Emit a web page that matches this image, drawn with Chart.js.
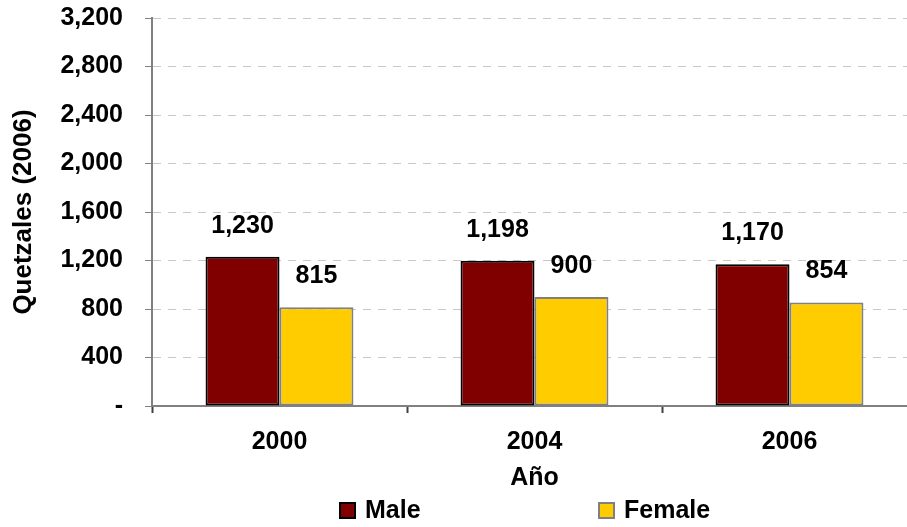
<!DOCTYPE html>
<html>
<head>
<meta charset="utf-8">
<script src="https://cdn.jsdelivr.net/npm/chart.js@4"></script>
<style>
  html, body { margin: 0; padding: 0; background: #fff; overflow: hidden; }
  #wrap { width: 917px; height: 527px; position: relative; }
</style>
</head>
<body>
<div id="wrap"><canvas id="ingresoChart"></canvas></div>
<script>
// ingreso medio por sexo, en quetzales de 2006
const years = ['2000', '2004', '2006'];
const maleValues = [1230, 1198, 1170];
const femaleValues = [815, 900, 854];
const seriesNames = ['Male', 'Female'];

const FONT = "'Liberation Sans', Arial, sans-serif";
const MALE_COLOR = '#800000';
const FEMALE_COLOR = '#FFCC00';

function fmt(v) {
    if (v === 0) return '-';
    return Number(v).toLocaleString('en-US');
}

// etiquetas de valor encima de cada barra
const valueLabels = {
    id: 'valueLabels',
    afterDatasetsDraw(chart) {
        const ctx = chart.ctx;
        ctx.save();
        ctx.font = 'bold 25px ' + FONT;
        ctx.fillStyle = '#000';
        ctx.textAlign = 'center';
        ctx.textBaseline = 'middle';
        chart.data.datasets.forEach((ds, i) => {
            chart.getDatasetMeta(i).data.forEach((bar, j) => {
                ctx.fillText(fmt(ds.data[j]), bar.x, bar.y - 31);
            });
        });
        ctx.restore();
    }
};

// leyenda abajo, dibujada a mano
const bottomLegend = {
    id: 'bottomLegend',
    afterDraw(chart) {
        const ctx = chart.ctx;
        const items = [
            { x: 340, fill: MALE_COLOR, stroke: '#000' },
            { x: 599, fill: FEMALE_COLOR, stroke: '#808080' }
        ];
        ctx.save();
        ctx.font = 'bold 25px ' + FONT;
        ctx.textBaseline = 'middle';
        ctx.textAlign = 'left';
        items.forEach((it, i) => {
            ctx.fillStyle = it.fill;
            ctx.fillRect(it.x, 503, 15, 15);
            ctx.lineWidth = 2;
            ctx.strokeStyle = it.stroke;
            ctx.strokeRect(it.x, 503, 15, 15);
            ctx.fillStyle = '#000';
            ctx.fillText(seriesNames[i], it.x + 25, 511);
        });
        ctx.restore();
    }
};

const ctx = document.getElementById('ingresoChart').getContext('2d');

new Chart(ctx, {
    type: 'bar',
    data: {
        labels: years,
        datasets: [{
            label: seriesNames[0],
            data: maleValues,
            backgroundColor: MALE_COLOR,
            borderColor: '#000',
            borderWidth: 2,
            borderSkipped: false
        }, {
            label: seriesNames[1],
            data: femaleValues,
            backgroundColor: FEMALE_COLOR,
            borderColor: '#808080',
            borderWidth: 2,
            borderSkipped: false
        }]
    },
    options: {
        responsive: true,
        maintainAspectRatio: false,
        animation: false,
        categoryPercentage: 0.58,
        barPercentage: 1,
        layout: { padding: 0 },
        plugins: {
            legend: { display: false },
            tooltip: { enabled: false }
        },
        scales: {
            x: {
                afterFit(scale) { scale.height = 121; },
                grid: {
                    drawOnChartArea: false,
                    drawTicks: true,
                    tickLength: 7,
                    tickColor: '#404040',
                    tickWidth: 2,
                    offset: true
                },
                border: { color: '#808080', width: 2 },
                ticks: {
                    color: '#000',
                    padding: 14,
                    font: { family: FONT, size: 25, weight: 'bold' }
                },
                title: {
                    display: true,
                    text: 'Año',
                    color: '#000',
                    font: { family: FONT, size: 25, weight: 'bold' },
                    padding: { top: 0, bottom: 34 }
                }
            },
            y: {
                min: 0,
                max: 3200,
                afterFit(scale) {
                    scale.width = 152;
                    scale.paddingTop = 18;
                },
                grid: {
                    color: '#c8c8c8',
                    lineWidth: 1,
                    tickLength: 7,
                    tickColor: '#808080',
                    tickWidth: 1,
                    tickBorderDash: []
                },
                border: { color: '#808080', width: 2, dash: [8, 7] },
                ticks: {
                    stepSize: 400,
                    color: '#000',
                    padding: 22,
                    font: { family: FONT, size: 25, weight: 'bold' },
                    callback: v => fmt(v)
                },
                title: {
                    display: true,
                    text: 'Quetzales (2006)',
                    color: '#000',
                    font: { family: FONT, size: 26, weight: 'bold' },
                    padding: { top: 8, bottom: 0 }
                }
            }
        }
    },
    plugins: [valueLabels, bottomLegend]
});
</script>
</body>
</html>
